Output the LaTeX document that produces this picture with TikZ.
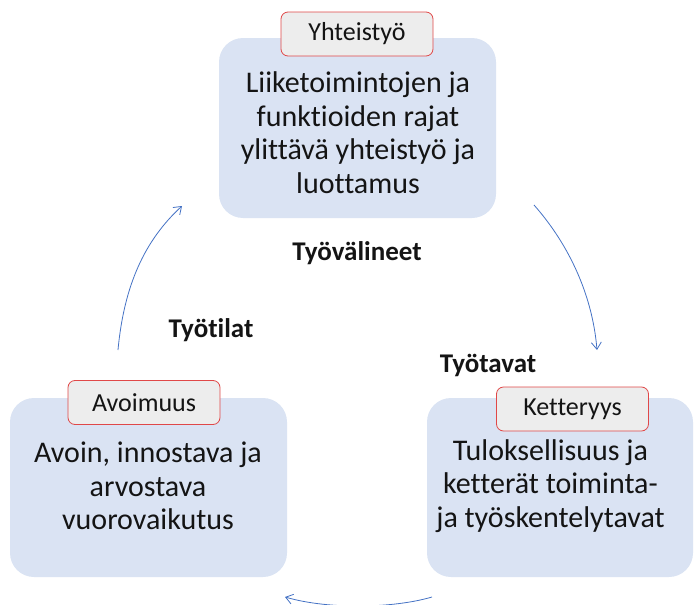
\documentclass[tikz,border=0pt]{standalone}
\usepackage{fontspec}
\setmainfont{Carlito}[Ligatures=NoCommon]
\usetikzlibrary{arrows.meta}
\definecolor{boxblue}{RGB}{218,227,243}
\definecolor{tagfill}{RGB}{237,237,237}
\definecolor{tagred}{RGB}{224,72,72}
\definecolor{arrowblue}{RGB}{68,114,196}
\definecolor{txt}{RGB}{20,20,20}
\begin{document}
\begin{tikzpicture}[x=1pt,y=1pt,
  bigbox/.style={fill=boxblue, rounded corners=24pt, inner sep=0pt},
  boxtext/.style={align=center, text=txt, inner sep=0pt,
    font={\fontsize{30}{33.5}\selectfont}},
  tagbox/.style={fill=tagfill, draw=tagred, line width=0.8pt, rounded corners=7pt,
    minimum width=152pt, minimum height=44pt, inner sep=0pt, text=txt, font={\fontsize{26}{30}\selectfont}},
  steplabel/.style={font={\bfseries\fontsize{27}{30}\selectfont}, text=txt, inner sep=0pt},
  cyclearrow/.style={draw=arrowblue, line width=0.8pt, -{Straight Barb[length=7pt,width=10pt]}}
]
\useasboundingbox (0,0) rectangle (694,-605);
% boxes
\node[bigbox, minimum width=277pt, minimum height=180pt] (top) at (357.5,-128) {};
\node[bigbox, minimum width=277pt, minimum height=179pt] (left) at (148.5,-487.5) {};
\node[bigbox, minimum width=266pt, minimum height=179pt] (right) at (560,-487.5) {};
% box texts
\node[boxtext] (toptext) at (358,-132.5)
  {Liiketoimintojen ja\\funktioiden rajat\\ylittävä yhteistyö ja\\luottamus};
\node[boxtext] (lefttext) at (148,-486)
  {Avoin, innostava ja\\arvostava\\vuorovaikutus};
\node[boxtext] (righttext) at (550.5,-486)
  {Tuloksellisuus ja\\ketterät toiminta-\\ja työskentelytavat};
% tags
\node[tagbox] (toptag) at (357,-34) {Yhteistyö};
\node[tagbox] (lefttag) at (144,-402.5) {Avoimuus};
\node[tagbox] (righttag) at (572.5,-409) {Ketteryys};
% step labels
\node[steplabel] (tools) at (357,-253) {Työvälineet};
\node[steplabel] (space) at (211,-330) {Työtilat};
\node[steplabel] (ways) at (488,-365) {Työtavat};
% arrows
\coordinate (a1s) at (118,-350);
\coordinate (a1e) at (182,-206);
\coordinate (a2s) at (534,-205);
\coordinate (a2e) at (597,-350);
\coordinate (a3s) at (432,-597);
\coordinate (a3e) at (285,-597);
\draw[cyclearrow] (a1s) .. controls (124,-285) and (145,-240) .. (a1e);
\draw[cyclearrow] (a2s) .. controls (565,-240) and (592,-290) .. (a2e);
\draw[cyclearrow] (a3s) .. controls (395,-608) and (330,-610) .. (a3e);
\end{tikzpicture}
\end{document}
